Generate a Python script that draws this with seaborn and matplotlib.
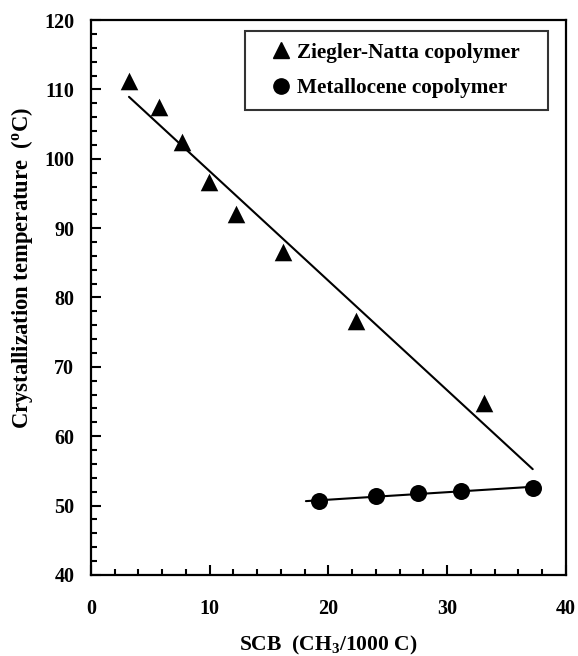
import numpy as np
import pandas as pd
import matplotlib
matplotlib.use("Agg")
import matplotlib.pyplot as plt
from matplotlib.ticker import MultipleLocator
from matplotlib.lines import Line2D
import seaborn as sns

# ---- data ----
zn_scb = [3.2, 5.7, 7.7, 9.9, 12.2, 16.2, 22.3, 33.1]
zn_tc = [111.2, 107.4, 102.4, 96.7, 92.0, 86.6, 76.6, 64.8]
mc_scb = [19.2, 24.0, 27.5, 31.2, 37.2]
mc_tc = [50.6, 51.4, 51.8, 52.1, 52.6]
zn_fit_range = [3.2, 37.2]
mc_fit_range = [18.1, 37.2]
zn_label = "Ziegler-Natta copolymer"
mc_label = "Metallocene copolymer"
x_ticks = [0, 10, 20, 30, 40]
y_ticks = [40, 50, 60, 70, 80, 90, 100, 110, 120]

sns.set_theme(style="white")
plt.rcParams['font.family'] = ['Liberation Serif', 'DejaVu Serif']
plt.rcParams['font.weight'] = 'bold'
plt.rcParams['text.color'] = 'black'
plt.rcParams['axes.labelcolor'] = 'black'
plt.rcParams['xtick.color'] = 'black'
plt.rcParams['ytick.color'] = 'black'
plt.rcParams['mathtext.fontset'] = 'custom'
plt.rcParams['mathtext.rm'] = 'Liberation Serif:bold'
plt.rcParams['mathtext.it'] = 'Liberation Serif:bold'
plt.rcParams['mathtext.bf'] = 'Liberation Serif:bold'

fig = plt.figure(figsize=(5.78, 6.56), dpi=100)
ax = fig.add_axes([0.1574, 0.1235, 0.8218, 0.846])

zn = pd.DataFrame({"scb": zn_scb, "tc": zn_tc})
mc = pd.DataFrame({"scb": mc_scb, "tc": mc_tc})

# fitted lines
for df, rng in ((zn, zn_fit_range), (mc, mc_fit_range)):
    k, b = np.polyfit(df["scb"], df["tc"], 1)
    xs = np.array(rng)
    fit = pd.DataFrame({"x": xs, "y": k * xs + b})
    sns.lineplot(data=fit, x="x", y="y", ax=ax, color="black", lw=1.5)

sns.scatterplot(data=zn, x="scb", y="tc", ax=ax, marker="^", s=160,
                color="black", edgecolor="black", linewidth=0, zorder=3)
sns.scatterplot(data=mc, x="scb", y="tc", ax=ax, marker="o", s=150,
                color="black", edgecolor="black", linewidth=0, zorder=3)

ax.set_xlim(0, 40)
ax.set_ylim(40, 120)
ax.set_xticks(x_ticks)
ax.set_yticks(y_ticks)
ax.xaxis.set_minor_locator(MultipleLocator(2))
ax.yaxis.set_minor_locator(MultipleLocator(2))
ax.tick_params(axis="both", which="both", direction="in", bottom=True, left=True,
               top=False, right=False, color="black", width=1.5)
ax.tick_params(axis="both", which="major", length=7, labelsize=14.5)
ax.tick_params(axis="both", which="minor", length=4.5)
ax.tick_params(axis="x", which="major", pad=17)
ax.tick_params(axis="y", which="major", pad=12)
for lab in ax.get_xticklabels() + ax.get_yticklabels():
    lab.set_fontweight("bold")
for sp in ax.spines.values():
    sp.set_color("black")
    sp.set_linewidth(1.6)

ax.set_xlabel("SCB  (CH$_3$/1000 C)", fontsize=15.5, fontweight="bold", labelpad=11)
ax.set_ylabel("Crystallization temperature  ($^{o}$C)", fontsize=16.3,
              fontweight="bold")
ax.yaxis.set_label_coords(-0.117, 0.553)

handles = [
    Line2D([], [], marker="^", color="black", ls="none", markersize=12, label=zn_label),
    Line2D([], [], marker="o", color="black", ls="none", markersize=11, label=mc_label),
]
leg = ax.legend(handles=handles, loc="upper left",
                bbox_to_anchor=(0.324, 0.5, 0.638, 0.480), mode="expand",
                borderaxespad=0, frameon=True, fancybox=False, shadow=False,
                edgecolor="black",
                prop={"family": "Liberation Serif", "weight": "bold", "size": 15.3},
                handletextpad=-0.44, borderpad=0.55, labelspacing=0.735,
                handlelength=2.34)
leg.get_frame().set_linewidth(1.5)

fig.savefig("out.png", dpi=100)
